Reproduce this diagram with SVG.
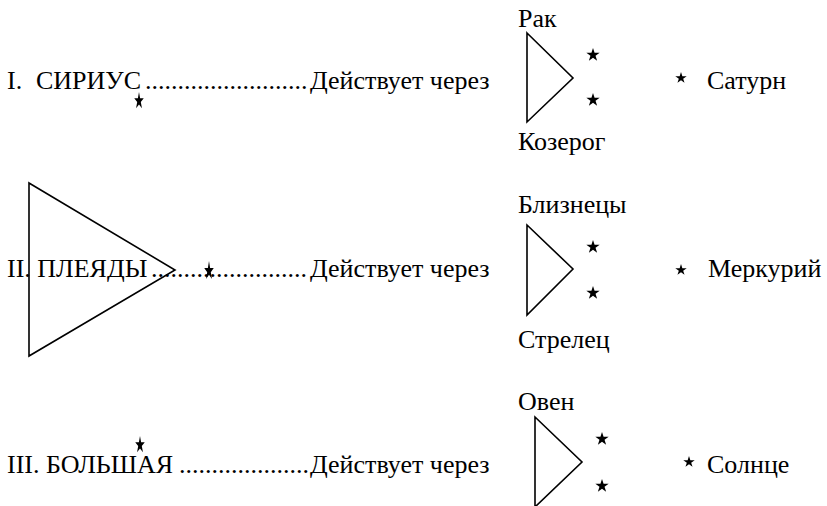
<svg xmlns="http://www.w3.org/2000/svg" width="827" height="506" viewBox="0 0 827 506">
<rect width="827" height="506" fill="#fff"/>
<g id="row1">
<g id="sirius"><text x="7" y="89" font-size="26" style="font-family: 'Liberation Serif', serif">I.</text><text x="36" y="89" font-size="26" style="font-family: 'Liberation Serif', serif">СИРИУС</text></g>
<g id="dots1"><text x="145" y="89" font-size="26" style="font-family: 'Liberation Serif', serif">.........................</text></g>
<g id="acts1"><text x="310" y="89" font-size="26" style="font-family: 'Liberation Serif', serif">Действует через</text></g>
<g id="star1"><path transform="translate(139,101) scale(5,9)" fill="#000" d="M0,-1 L0.2245,-0.309 L0.951,-0.309 L0.363,0.118 L0.588,0.809 L0,0.382 L-0.588,0.809 L-0.363,0.118 L-0.951,-0.309 L-0.2245,-0.309 Z"/></g>
<g id="tri1"><polygon points="527,33 573,78 527,122" fill="none" stroke="#000" stroke-width="1.6"/></g>
<g id="rak"><text x="518" y="27" font-size="26" style="font-family: 'Liberation Serif', serif">Рак</text></g>
<g id="kozerog"><text x="518" y="150" font-size="26" style="font-family: 'Liberation Serif', serif">Козерог</text></g>
<g id="stars1"><path transform="translate(593,55) scale(7)" fill="#000" d="M0,-1 L0.2245,-0.309 L0.951,-0.309 L0.363,0.118 L0.588,0.809 L0,0.382 L-0.588,0.809 L-0.363,0.118 L-0.951,-0.309 L-0.2245,-0.309 Z"/><path transform="translate(593,100) scale(7)" fill="#000" d="M0,-1 L0.2245,-0.309 L0.951,-0.309 L0.363,0.118 L0.588,0.809 L0,0.382 L-0.588,0.809 L-0.363,0.118 L-0.951,-0.309 L-0.2245,-0.309 Z"/></g>
<g id="saturn"><path transform="translate(681,78) scale(6)" fill="#000" d="M0,-1 L0.2245,-0.309 L0.951,-0.309 L0.363,0.118 L0.588,0.809 L0,0.382 L-0.588,0.809 L-0.363,0.118 L-0.951,-0.309 L-0.2245,-0.309 Z"/><text x="707" y="89" font-size="26" style="font-family: 'Liberation Serif', serif">Сатурн</text></g>
</g>
<g id="row2">
<g id="bigtri"><polygon points="29,183 175,270 29,356" fill="none" stroke="#000" stroke-width="1.6"/></g>
<g id="pleiades"><text x="7" y="277" font-size="26" style="font-family: 'Liberation Serif', serif">II. ПЛЕЯДЫ</text></g>
<g id="dots2"><text x="151" y="277" font-size="26" style="font-family: 'Liberation Serif', serif">........................</text></g>
<g id="acts2"><text x="310" y="277" font-size="26" style="font-family: 'Liberation Serif', serif">Действует через</text></g>
<g id="star2"><path transform="translate(209,271) scale(5,10)" fill="#000" d="M0,-1 L0.2245,-0.309 L0.951,-0.309 L0.363,0.118 L0.588,0.809 L0,0.382 L-0.588,0.809 L-0.363,0.118 L-0.951,-0.309 L-0.2245,-0.309 Z"/></g>
<g id="tri2"><polygon points="527,225 573,269 527,315" fill="none" stroke="#000" stroke-width="1.6"/></g>
<g id="bliznetsy"><text x="518" y="213" font-size="26" style="font-family: 'Liberation Serif', serif">Близнецы</text></g>
<g id="strelets"><text x="518" y="348" font-size="26" style="font-family: 'Liberation Serif', serif">Стрелец</text></g>
<g id="stars2"><path transform="translate(593,247) scale(7)" fill="#000" d="M0,-1 L0.2245,-0.309 L0.951,-0.309 L0.363,0.118 L0.588,0.809 L0,0.382 L-0.588,0.809 L-0.363,0.118 L-0.951,-0.309 L-0.2245,-0.309 Z"/><path transform="translate(593,293) scale(7)" fill="#000" d="M0,-1 L0.2245,-0.309 L0.951,-0.309 L0.363,0.118 L0.588,0.809 L0,0.382 L-0.588,0.809 L-0.363,0.118 L-0.951,-0.309 L-0.2245,-0.309 Z"/></g>
<g id="merkuriy"><path transform="translate(681,270) scale(6)" fill="#000" d="M0,-1 L0.2245,-0.309 L0.951,-0.309 L0.363,0.118 L0.588,0.809 L0,0.382 L-0.588,0.809 L-0.363,0.118 L-0.951,-0.309 L-0.2245,-0.309 Z"/><text x="708" y="277" font-size="26" style="font-family: 'Liberation Serif', serif">Меркурий</text></g>
</g>
<g id="row3">
<g id="bolshaya"><text x="7" y="473" font-size="26" style="font-family: 'Liberation Serif', serif">III. БОЛЬШАЯ</text></g>
<g id="dots3"><text x="179" y="473" font-size="26" style="font-family: 'Liberation Serif', serif">....................</text></g>
<g id="acts3"><text x="310" y="473" font-size="26" style="font-family: 'Liberation Serif', serif">Действует через</text></g>
<g id="star3"><path transform="translate(140,445) scale(5,9)" fill="#000" d="M0,-1 L0.2245,-0.309 L0.951,-0.309 L0.363,0.118 L0.588,0.809 L0,0.382 L-0.588,0.809 L-0.363,0.118 L-0.951,-0.309 L-0.2245,-0.309 Z"/></g>
<g id="tri3"><polygon points="535,417 582,462 535,507" fill="none" stroke="#000" stroke-width="1.6"/></g>
<g id="oven"><text x="518" y="410" font-size="26" style="font-family: 'Liberation Serif', serif">Овен</text></g>
<g id="stars3"><path transform="translate(602,439) scale(7)" fill="#000" d="M0,-1 L0.2245,-0.309 L0.951,-0.309 L0.363,0.118 L0.588,0.809 L0,0.382 L-0.588,0.809 L-0.363,0.118 L-0.951,-0.309 L-0.2245,-0.309 Z"/><path transform="translate(602,486) scale(7)" fill="#000" d="M0,-1 L0.2245,-0.309 L0.951,-0.309 L0.363,0.118 L0.588,0.809 L0,0.382 L-0.588,0.809 L-0.363,0.118 L-0.951,-0.309 L-0.2245,-0.309 Z"/></g>
<g id="solntse"><path transform="translate(689,462) scale(6)" fill="#000" d="M0,-1 L0.2245,-0.309 L0.951,-0.309 L0.363,0.118 L0.588,0.809 L0,0.382 L-0.588,0.809 L-0.363,0.118 L-0.951,-0.309 L-0.2245,-0.309 Z"/><text x="707" y="473" font-size="26" style="font-family: 'Liberation Serif', serif">Солнце</text></g>
</g>
</svg>
